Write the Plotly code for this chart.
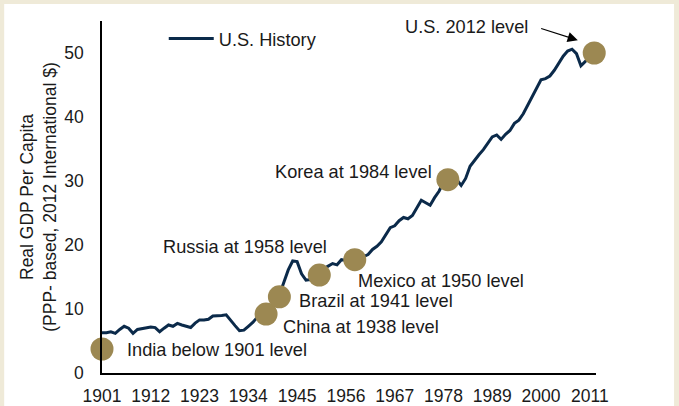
import plotly.graph_objects as go

years = list(range(1901, 2013))
us_gdp = [
    6.3, 6.3, 6.45, 6.2, 6.8, 7.3, 7.0, 6.2, 6.8, 6.9,
    7.0, 7.2, 7.1, 6.45, 7.0, 7.5, 7.3, 7.75, 7.5, 7.3,
    7.1, 7.8, 8.3, 8.3, 8.4, 8.9, 8.9, 9.0, 9.1, 8.2,
    7.4, 6.6, 6.7, 7.3, 7.9, 8.7, 9.2, 9.0, 9.9, 10.9,
    12.2, 14.0, 16.1, 17.5, 17.4, 15.5, 14.5, 14.6, 14.4, 15.4,
    16.3, 16.7, 17.1, 16.9, 17.7, 17.6, 17.6, 17.4, 18.2, 18.2,
    18.5, 19.3, 19.8, 20.5, 21.6, 22.7, 23.0, 23.8, 24.3, 24.1,
    24.6, 25.8, 27.0, 26.6, 26.2, 27.4, 28.4, 29.8, 30.2, 29.8,
    30.2, 29.3, 30.4, 32.3, 33.3, 34.1, 34.9, 36.0, 36.9, 37.2,
    36.5, 37.3, 37.9, 39.0, 39.5, 40.5, 41.8, 43.1, 44.5, 45.8,
    46.0, 46.4, 47.3, 48.5, 49.5, 50.3, 50.6, 49.9, 48.0, 48.7,
    49.2, 49.8,
]

dot_years = [1901, 1938, 1941, 1950, 1958, 1979, 2012]
dot_values = [3.75, 9.2, 11.9, 15.3, 17.7, 30.2, 50.0]

labels = [
    "India below 1901 level", "China at 1938 level", "Brazil at 1941 level",
    "Russia at 1958 level", "Mexico at 1950 level", "Korea at 1984 level",
    "U.S. 2012 level",
]
label_x = [1906.2, 1941.4, 1944.9, 1914.3, 1958.2, 1939.5, 1968.9]
label_y = [3.6, 7.15, 11.25, 19.7, 14.45, 31.4, 54.0]

tick_years = list(range(1901, 2012, 11))
y_ticks = [0, 10, 20, 30, 40, 50]

LINE = "#0B2A4A"
GOLD = "#9C8852"
BEIGE = "#EFEAD8"
FONT = "Liberation Sans, Arial, sans-serif"

fig = go.Figure()
fig.add_trace(go.Scatter(
    x=years, y=us_gdp, mode="lines", name="U.S. History",
    line=dict(color=LINE, width=3), showlegend=True,
))
fig.add_trace(go.Scatter(
    x=dot_years, y=dot_values, mode="markers", showlegend=False,
    marker=dict(color=GOLD, size=23, line=dict(width=0)), cliponaxis=False,
))

for t, xx, yy in zip(labels, label_x, label_y):
    fig.add_annotation(x=xx, y=yy, text=t, showarrow=False, xanchor="left",
                       yanchor="middle", font=dict(size=18.2, color="#1a1a1a", family=FONT))

# arrow for U.S. 2012 level
fig.add_annotation(x=2008.3, y=52.0, ax=1999.7, ay=53.9, xref="x", yref="y",
                   axref="x", ayref="y", showarrow=True, arrowhead=2,
                   arrowsize=1.7, arrowwidth=1.2, arrowcolor="black", text="")

fig.add_shape(type="rect", xref="paper", yref="paper", x0=-0.198, x1=1.158,
              y0=-0.2, y1=1.048, fillcolor="white", line=dict(width=0), layer="below")

fig.update_layout(
    width=679, height=406,
    margin=dict(l=102, r=83, t=21, b=33, autoexpand=False),
    paper_bgcolor=BEIGE, plot_bgcolor="white",
    font=dict(family=FONT, size=17, color="#1a1a1a"),
    legend=dict(x=0.125, y=0.95, xanchor="left", yanchor="middle",
                bgcolor="rgba(0,0,0,0)", font=dict(size=18.2),
                itemwidth=45, tracegroupgap=0),
    xaxis=dict(range=[1901, 2012.4], tickvals=tick_years, ticktext=[str(v) for v in tick_years],
               showgrid=False, zeroline=False, showline=True, linecolor="black", linewidth=1.5,
               ticks="", ticklabelstandoff=6, tickfont=dict(size=17.5)),
    yaxis=dict(range=[0, 55], tickvals=y_ticks, showgrid=False, zeroline=False,
               showline=True, linecolor="black", linewidth=1.5, ticks="",
               ticklabelstandoff=13, tickfont=dict(size=17.5),
               title=dict(text="Real GDP Per Capita<br>(PPP- based, 2012 International $)",
                          font=dict(size=17.5), standoff=3)),
)

fig.write_html("out.html", config={"displayModeBar": False},
               post_script="document.body.style.margin='0';document.body.style.overflow='hidden';")
